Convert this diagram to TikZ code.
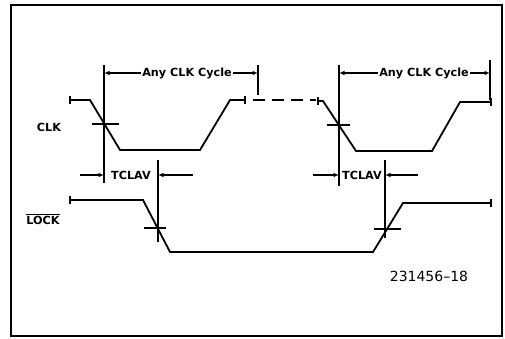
\documentclass[tikz,border=0pt]{standalone}
\usepackage{fontspec}
\setmainfont{DejaVu Sans}
\usetikzlibrary{arrows.meta}
\begin{document}
\begin{tikzpicture}[x=1pt,y=-1pt,
  wave/.style={line width=1.8pt, line join=miter},
  xmarker/.style={line width=1.6pt},
  guide/.style={line width=1.4pt},
  dimarrow/.style={line width=1.4pt,-{Latex[length=5.5pt,width=4.5pt]}},
  lbl/.style={font=\bfseries\fontsize{11.2}{13}\selectfont, inner sep=1pt},
  endtick/.style={line width=1.2pt},
]
\useasboundingbox (0,0) rectangle (505,339);
\draw[line width=1.5pt] (11,5) rectangle (502,336);

% CLK waveform
\draw[wave] (70,100) -- (90,100) -- (120,150) -- (200,150) -- (230,100) -- (245,100);
\draw[wave, dash pattern=on 12pt off 7pt] (253,100) -- (316,100);
\draw[wave] (318,101) -- (323,101) -- (356,151) -- (432,151) -- (460,102) -- (491,102);
\foreach \x/\y in {70/100,245/100,318/101,491/102}
  \draw[endtick] (\x,\y-4) -- (\x,\y+4);

% LOCK waveform
\draw[wave] (70,200) -- (143,200) -- (170,252) -- (373,252) -- (403,203) -- (491,203);
\foreach \x/\y in {70/200,491/203}
  \draw[endtick] (\x,\y-4) -- (\x,\y+4);

% crossing markers
\draw[xmarker] (92,124) -- (119,124);
\draw[xmarker] (327,125) -- (350,125);
\draw[xmarker] (144,228) -- (166,228);
\draw[xmarker] (374,229) -- (401,229);

% guide lines
\coordinate (g1t) at (104,65);  \coordinate (g1b) at (104,183);
\coordinate (g2t) at (258,65);  \coordinate (g2b) at (258,95);
\coordinate (g3t) at (339,65);  \coordinate (g3b) at (339,186);
\coordinate (g4t) at (490,60);  \coordinate (g4b) at (490,100);
\coordinate (g5t) at (158,160); \coordinate (g5b) at (158,242);
\coordinate (g6t) at (385,160); \coordinate (g6b) at (385,238);
\foreach \g in {g1,g2,g3,g4,g5,g6}
  \draw[guide] (\g t) -- (\g b);

% Any CLK Cycle dimensions
\node[lbl] (c1) at (187,73) {Any CLK Cycle};
\node[lbl] (c2) at (424,73) {Any CLK Cycle};
\coordinate (c1l) at (104,73); \coordinate (c1r) at (258,73);
\coordinate (c2l) at (339,73); \coordinate (c2r) at (490,73);
\draw[dimarrow] (c1.west) -- (c1l);
\draw[dimarrow] (c1.east) -- (c1r);
\draw[dimarrow] (c2.west) -- (c2l);
\draw[dimarrow] (c2.east) -- (c2r);

% TCLAV dimensions
\node[lbl] (t1) at (131,175) {TCLAV};
\node[lbl] (t2) at (362,175) {TCLAV};
\coordinate (t1a) at (80,175);  \coordinate (t1al) at (104,175);
\coordinate (t1b) at (193,175); \coordinate (t1bl) at (158,175);
\coordinate (t2a) at (313,175); \coordinate (t2al) at (339,175);
\coordinate (t2b) at (418,175); \coordinate (t2bl) at (385,175);
\draw[dimarrow] (t1a) -- (t1al);
\draw[dimarrow] (t1b) -- (t1bl);
\draw[dimarrow] (t2a) -- (t2al);
\draw[dimarrow] (t2b) -- (t2bl);

% signal labels
\node[lbl] (clk) at (49,127) {CLK};
\node[lbl] (lock) at (43,219) {$\overline{\mbox{LOCK}}$};
\node[font=\fontsize{14}{16}\selectfont, inner sep=0pt] (fig) at (429,276) {231456–18};
\end{tikzpicture}
\end{document}
